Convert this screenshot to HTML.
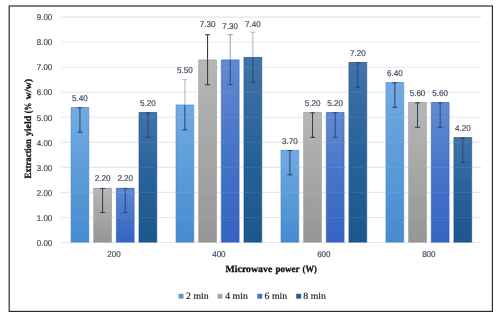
<!DOCTYPE html>
<html><head><meta charset="utf-8"><title>Extraction yield vs microwave power</title>
<style>
html,body{margin:0;padding:0;background:#fff;}
svg{display:block;}
.n{font-family:"Liberation Sans",sans-serif;font-size:8.4px;fill:#434d60;stroke:#434d60;stroke-width:0.2px;text-rendering:geometricPrecision;}
.s{font-family:"Liberation Serif",serif;font-size:9.6px;fill:#1a1a1a;stroke:#1a1a1a;stroke-width:0.15px;text-rendering:geometricPrecision;}
.b{font-family:"Liberation Serif",serif;font-size:9.5px;font-weight:bold;fill:#111;stroke:#111;stroke-width:0.3px;text-rendering:geometricPrecision;}
</style></head><body>
<svg width="497" height="317" viewBox="0 0 497 317">
<defs>
<linearGradient id="g0" x1="0" y1="0" x2="0" y2="1"><stop offset="0" stop-color="#72abe3"/><stop offset="0.5" stop-color="#5b9bd8"/><stop offset="1" stop-color="#468bcf"/></linearGradient>
<linearGradient id="g1" x1="0" y1="0" x2="0" y2="1"><stop offset="0" stop-color="#b7b7b7"/><stop offset="0.5" stop-color="#a6a6a6"/><stop offset="1" stop-color="#969696"/></linearGradient>
<linearGradient id="g2" x1="0" y1="0" x2="0" y2="1"><stop offset="0" stop-color="#628ad3"/><stop offset="0.5" stop-color="#4674c8"/><stop offset="1" stop-color="#3564c1"/></linearGradient>
<linearGradient id="g3" x1="0" y1="0" x2="0" y2="1"><stop offset="0" stop-color="#4073a9"/><stop offset="0.5" stop-color="#28629a"/><stop offset="1" stop-color="#1b568c"/></linearGradient>
</defs>
<rect x="0" y="0" width="497" height="317" fill="#ffffff"/>
<rect x="9.2" y="6" width="483.20" height="305.40" fill="none" stroke="#2e2e2e" stroke-width="1.2"/>

<line x1="61.4" y1="242.50" x2="481.3" y2="242.50" stroke="#e6e6e6" stroke-width="1.1"/>
<text class="n" x="52.3" y="245.70" text-anchor="end" textLength="15.5" lengthAdjust="spacingAndGlyphs">0.00</text>
<line x1="61.4" y1="217.46" x2="481.3" y2="217.46" stroke="#e6e6e6" stroke-width="1.1"/>
<text class="n" x="52.3" y="220.66" text-anchor="end" textLength="15.5" lengthAdjust="spacingAndGlyphs">1.00</text>
<line x1="61.4" y1="192.42" x2="481.3" y2="192.42" stroke="#e6e6e6" stroke-width="1.1"/>
<text class="n" x="52.3" y="195.62" text-anchor="end" textLength="15.5" lengthAdjust="spacingAndGlyphs">2.00</text>
<line x1="61.4" y1="167.38" x2="481.3" y2="167.38" stroke="#e6e6e6" stroke-width="1.1"/>
<text class="n" x="52.3" y="170.58" text-anchor="end" textLength="15.5" lengthAdjust="spacingAndGlyphs">3.00</text>
<line x1="61.4" y1="142.34" x2="481.3" y2="142.34" stroke="#e6e6e6" stroke-width="1.1"/>
<text class="n" x="52.3" y="145.54" text-anchor="end" textLength="15.5" lengthAdjust="spacingAndGlyphs">4.00</text>
<line x1="61.4" y1="117.30" x2="481.3" y2="117.30" stroke="#e6e6e6" stroke-width="1.1"/>
<text class="n" x="52.3" y="120.50" text-anchor="end" textLength="15.5" lengthAdjust="spacingAndGlyphs">5.00</text>
<line x1="61.4" y1="92.26" x2="481.3" y2="92.26" stroke="#e6e6e6" stroke-width="1.1"/>
<text class="n" x="52.3" y="95.46" text-anchor="end" textLength="15.5" lengthAdjust="spacingAndGlyphs">6.00</text>
<line x1="61.4" y1="67.22" x2="481.3" y2="67.22" stroke="#e6e6e6" stroke-width="1.1"/>
<text class="n" x="52.3" y="70.42" text-anchor="end" textLength="15.5" lengthAdjust="spacingAndGlyphs">7.00</text>
<line x1="61.4" y1="42.18" x2="481.3" y2="42.18" stroke="#e6e6e6" stroke-width="1.1"/>
<text class="n" x="52.3" y="45.38" text-anchor="end" textLength="15.5" lengthAdjust="spacingAndGlyphs">8.00</text>
<line x1="61.4" y1="17.14" x2="481.3" y2="17.14" stroke="#e6e6e6" stroke-width="1.1"/>
<text class="n" x="52.3" y="20.34" text-anchor="end" textLength="15.5" lengthAdjust="spacingAndGlyphs">9.00</text>
<rect x="71.00" y="107.28" width="17.9" height="135.22" fill="url(#g0)"/>
<path d="M71.00 242.5V107.53H88.90V242.5" stroke="#4a86c4" stroke-width="0.5" fill="none"/>
<rect x="93.65" y="188.01" width="17.9" height="54.49" fill="url(#g1)"/>
<path d="M93.65 242.5V188.26H111.55V242.5" stroke="#8e8e8e" stroke-width="0.5" fill="none"/>
<rect x="116.30" y="188.01" width="17.9" height="54.49" fill="url(#g2)"/>
<path d="M116.30 242.5V188.26H134.20V242.5" stroke="#345fb0" stroke-width="0.5" fill="none"/>
<rect x="138.95" y="112.29" width="17.9" height="130.21" fill="url(#g3)"/>
<path d="M138.95 242.5V112.54H156.85V242.5" stroke="#1c4f80" stroke-width="0.5" fill="none"/>
<rect x="175.97" y="104.78" width="17.9" height="137.72" fill="url(#g0)"/>
<path d="M175.97 242.5V105.03H193.87V242.5" stroke="#4a86c4" stroke-width="0.5" fill="none"/>
<rect x="198.62" y="59.71" width="17.9" height="182.79" fill="url(#g1)"/>
<path d="M198.62 242.5V59.96H216.52V242.5" stroke="#8e8e8e" stroke-width="0.5" fill="none"/>
<rect x="221.27" y="59.71" width="17.9" height="182.79" fill="url(#g2)"/>
<path d="M221.27 242.5V59.96H239.17V242.5" stroke="#345fb0" stroke-width="0.5" fill="none"/>
<rect x="243.92" y="57.20" width="17.9" height="185.30" fill="url(#g3)"/>
<path d="M243.92 242.5V57.45H261.82V242.5" stroke="#1c4f80" stroke-width="0.5" fill="none"/>
<rect x="280.94" y="150.05" width="17.9" height="92.45" fill="url(#g0)"/>
<path d="M280.94 242.5V150.30H298.84V242.5" stroke="#4a86c4" stroke-width="0.5" fill="none"/>
<rect x="303.59" y="112.29" width="17.9" height="130.21" fill="url(#g1)"/>
<path d="M303.59 242.5V112.54H321.49V242.5" stroke="#8e8e8e" stroke-width="0.5" fill="none"/>
<rect x="326.24" y="112.29" width="17.9" height="130.21" fill="url(#g2)"/>
<path d="M326.24 242.5V112.54H344.14V242.5" stroke="#345fb0" stroke-width="0.5" fill="none"/>
<rect x="348.89" y="62.21" width="17.9" height="180.29" fill="url(#g3)"/>
<path d="M348.89 242.5V62.46H366.79V242.5" stroke="#1c4f80" stroke-width="0.5" fill="none"/>
<rect x="385.91" y="82.24" width="17.9" height="160.26" fill="url(#g0)"/>
<path d="M385.91 242.5V82.49H403.81V242.5" stroke="#4a86c4" stroke-width="0.5" fill="none"/>
<rect x="408.56" y="102.28" width="17.9" height="140.22" fill="url(#g1)"/>
<path d="M408.56 242.5V102.53H426.46V242.5" stroke="#8e8e8e" stroke-width="0.5" fill="none"/>
<rect x="431.21" y="102.28" width="17.9" height="140.22" fill="url(#g2)"/>
<path d="M431.21 242.5V102.53H449.11V242.5" stroke="#345fb0" stroke-width="0.5" fill="none"/>
<rect x="453.86" y="137.33" width="17.9" height="105.17" fill="url(#g3)"/>
<path d="M453.86 242.5V137.58H471.76V242.5" stroke="#1c4f80" stroke-width="0.5" fill="none"/>
<line x1="61.4" y1="217.46" x2="481.3" y2="217.46" stroke="#ffffff" stroke-opacity="0.10" stroke-width="0.8"/>
<line x1="61.4" y1="192.42" x2="481.3" y2="192.42" stroke="#ffffff" stroke-opacity="0.10" stroke-width="0.8"/>
<line x1="61.4" y1="167.38" x2="481.3" y2="167.38" stroke="#ffffff" stroke-opacity="0.10" stroke-width="0.8"/>
<line x1="61.4" y1="142.34" x2="481.3" y2="142.34" stroke="#ffffff" stroke-opacity="0.10" stroke-width="0.8"/>
<line x1="61.4" y1="117.30" x2="481.3" y2="117.30" stroke="#ffffff" stroke-opacity="0.10" stroke-width="0.8"/>
<line x1="61.4" y1="92.26" x2="481.3" y2="92.26" stroke="#ffffff" stroke-opacity="0.10" stroke-width="0.8"/>
<line x1="61.4" y1="67.22" x2="481.3" y2="67.22" stroke="#ffffff" stroke-opacity="0.10" stroke-width="0.8"/>
<line x1="61.4" y1="42.18" x2="481.3" y2="42.18" stroke="#ffffff" stroke-opacity="0.10" stroke-width="0.8"/>
<path d="M79.95 107.28V132.32M77.45 132.32H82.45" stroke="#1d2f4d" stroke-width="1" fill="none" opacity="0.85"/>
<path d="M77.45 107.78H82.45" stroke="#1d2f4d" stroke-width="1" fill="none" opacity="0.72"/>
<path d="M102.60 188.01V212.45M100.10 212.45H105.10" stroke="#1d2f4d" stroke-width="1" fill="none" opacity="0.9"/>
<path d="M100.10 188.51H105.10" stroke="#1d2f4d" stroke-width="1" fill="none" opacity="0.77"/>
<path d="M125.25 188.01V212.45M122.75 212.45H127.75" stroke="#1d2f4d" stroke-width="1" fill="none" opacity="0.7"/>
<path d="M122.75 188.51H127.75" stroke="#1d2f4d" stroke-width="1" fill="none" opacity="0.59"/>
<path d="M147.90 112.29V137.33M145.40 137.33H150.40" stroke="#1d2f4d" stroke-width="1" fill="none" opacity="0.6"/>
<path d="M145.40 112.79H150.40" stroke="#1d2f4d" stroke-width="1" fill="none" opacity="0.51"/>
<path d="M184.92 104.78V129.82M182.42 129.82H187.42" stroke="#1d2f4d" stroke-width="1" fill="none" opacity="0.85"/>
<path d="M184.92 104.78V79.74M182.42 79.74H187.42" stroke="#a3abbb" stroke-width="0.9" fill="none"/>
<path d="M207.57 59.71V84.75M205.07 84.75H210.07" stroke="#1d2f4d" stroke-width="1" fill="none" opacity="0.9"/>
<path d="M207.57 59.71V34.67M205.07 34.67H210.07" stroke="#2b3446" stroke-width="1.05" fill="none"/>
<path d="M230.22 59.71V84.75M227.72 84.75H232.72" stroke="#1d2f4d" stroke-width="1" fill="none" opacity="0.7"/>
<path d="M230.22 59.71V34.67M227.72 34.67H232.72" stroke="#8791a8" stroke-width="0.9" fill="none"/>
<path d="M252.87 57.20V82.24M250.37 82.24H255.37" stroke="#1d2f4d" stroke-width="1" fill="none" opacity="0.6"/>
<path d="M252.87 57.20V32.16M250.37 32.16H255.37" stroke="#a3abbb" stroke-width="0.9" fill="none"/>
<path d="M289.89 150.05V174.89M287.39 174.89H292.39" stroke="#1d2f4d" stroke-width="1" fill="none" opacity="0.85"/>
<path d="M287.39 150.55H292.39" stroke="#1d2f4d" stroke-width="1" fill="none" opacity="0.72"/>
<path d="M312.54 112.29V137.33M310.04 137.33H315.04" stroke="#1d2f4d" stroke-width="1" fill="none" opacity="0.9"/>
<path d="M310.04 112.79H315.04" stroke="#1d2f4d" stroke-width="1" fill="none" opacity="0.77"/>
<path d="M335.19 112.29V137.33M332.69 137.33H337.69" stroke="#1d2f4d" stroke-width="1" fill="none" opacity="0.7"/>
<path d="M332.69 112.79H337.69" stroke="#1d2f4d" stroke-width="1" fill="none" opacity="0.59"/>
<path d="M357.84 62.21V87.25M355.34 87.25H360.34" stroke="#1d2f4d" stroke-width="1" fill="none" opacity="0.6"/>
<path d="M355.34 62.71H360.34" stroke="#1d2f4d" stroke-width="1" fill="none" opacity="0.51"/>
<path d="M394.86 82.24V107.28M392.36 107.28H397.36" stroke="#1d2f4d" stroke-width="1" fill="none" opacity="0.85"/>
<path d="M392.36 82.74H397.36" stroke="#1d2f4d" stroke-width="1" fill="none" opacity="0.72"/>
<path d="M417.51 102.28V127.32M415.01 127.32H420.01" stroke="#1d2f4d" stroke-width="1" fill="none" opacity="0.9"/>
<path d="M415.01 102.78H420.01" stroke="#1d2f4d" stroke-width="1" fill="none" opacity="0.77"/>
<path d="M440.16 102.28V127.32M437.66 127.32H442.66" stroke="#1d2f4d" stroke-width="1" fill="none" opacity="0.7"/>
<path d="M437.66 102.78H442.66" stroke="#1d2f4d" stroke-width="1" fill="none" opacity="0.59"/>
<path d="M462.81 137.33V162.37M460.31 162.37H465.31" stroke="#1d2f4d" stroke-width="1" fill="none" opacity="0.6"/>
<path d="M460.31 137.83H465.31" stroke="#1d2f4d" stroke-width="1" fill="none" opacity="0.51"/>
<text class="n" x="79.95" y="100.88" text-anchor="middle" textLength="15.7" lengthAdjust="spacingAndGlyphs">5.40</text>
<text class="n" x="102.60" y="181.01" text-anchor="middle" textLength="15.7" lengthAdjust="spacingAndGlyphs">2.20</text>
<text class="n" x="125.25" y="181.01" text-anchor="middle" textLength="15.7" lengthAdjust="spacingAndGlyphs">2.20</text>
<text class="n" x="147.90" y="105.89" text-anchor="middle" textLength="15.7" lengthAdjust="spacingAndGlyphs">5.20</text>
<text class="n" x="184.92" y="73.00" text-anchor="middle" textLength="15.7" lengthAdjust="spacingAndGlyphs">5.50</text>
<text class="n" x="207.57" y="27.30" text-anchor="middle" textLength="15.7" lengthAdjust="spacingAndGlyphs">7.30</text>
<text class="n" x="230.22" y="29.40" text-anchor="middle" textLength="15.7" lengthAdjust="spacingAndGlyphs">7.30</text>
<text class="n" x="252.87" y="26.50" text-anchor="middle" textLength="15.7" lengthAdjust="spacingAndGlyphs">7.40</text>
<text class="n" x="289.89" y="143.55" text-anchor="middle" textLength="15.7" lengthAdjust="spacingAndGlyphs">3.70</text>
<text class="n" x="312.54" y="105.89" text-anchor="middle" textLength="15.7" lengthAdjust="spacingAndGlyphs">5.20</text>
<text class="n" x="335.19" y="105.89" text-anchor="middle" textLength="15.7" lengthAdjust="spacingAndGlyphs">5.20</text>
<text class="n" x="357.84" y="55.81" text-anchor="middle" textLength="15.7" lengthAdjust="spacingAndGlyphs">7.20</text>
<text class="n" x="394.86" y="75.84" text-anchor="middle" textLength="15.7" lengthAdjust="spacingAndGlyphs">6.40</text>
<text class="n" x="417.51" y="95.88" text-anchor="middle" textLength="15.7" lengthAdjust="spacingAndGlyphs">5.60</text>
<text class="n" x="440.16" y="95.88" text-anchor="middle" textLength="15.7" lengthAdjust="spacingAndGlyphs">5.60</text>
<text class="n" x="462.81" y="130.93" text-anchor="middle" textLength="15.7" lengthAdjust="spacingAndGlyphs">4.20</text>
<text class="n" x="113.92" y="257.1" text-anchor="middle" textLength="13.4" lengthAdjust="spacingAndGlyphs">200</text>
<text class="n" x="218.89" y="257.1" text-anchor="middle" textLength="13.4" lengthAdjust="spacingAndGlyphs">400</text>
<text class="n" x="323.87" y="257.1" text-anchor="middle" textLength="13.4" lengthAdjust="spacingAndGlyphs">600</text>
<text class="n" x="428.83" y="257.1" text-anchor="middle" textLength="13.4" lengthAdjust="spacingAndGlyphs">800</text>
<text class="b" x="225.5" y="271.6" textLength="46.8" lengthAdjust="spacingAndGlyphs">Microwave</text>
<text class="b" x="275.4" y="271.6" textLength="24.0" lengthAdjust="spacingAndGlyphs">power</text>
<text class="b" x="302.6" y="271.6" textLength="14.1" lengthAdjust="spacingAndGlyphs">(W)</text>
<text class="b" transform="translate(30.5 178.5) rotate(-90)" textLength="39.4" lengthAdjust="spacingAndGlyphs">Extraction</text>
<text class="b" transform="translate(30.5 136.1) rotate(-90)" textLength="20.3" lengthAdjust="spacingAndGlyphs">yield</text>
<text class="b" transform="translate(30.5 113.2) rotate(-90)" textLength="10.4" lengthAdjust="spacingAndGlyphs">(%</text>
<text class="b" transform="translate(30.5 99.6) rotate(-90)" textLength="20.6" lengthAdjust="spacingAndGlyphs">w/w)</text>
<rect x="178.6" y="293.8" width="4.9" height="4.9" fill="#5b9bd5"/>
<text class="s" x="186.1" y="298.8" textLength="22.6" lengthAdjust="spacingAndGlyphs">2 min</text>
<rect x="217.6" y="293.8" width="4.9" height="4.9" fill="#a5a5a5"/>
<text class="s" x="225.2" y="298.8" textLength="22.6" lengthAdjust="spacingAndGlyphs">4 min</text>
<rect x="257.3" y="293.8" width="4.9" height="4.9" fill="#4472c4"/>
<text class="s" x="264.6" y="298.8" textLength="22.6" lengthAdjust="spacingAndGlyphs">6 min</text>
<rect x="296.2" y="293.8" width="4.9" height="4.9" fill="#255e91"/>
<text class="s" x="303.3" y="298.8" textLength="22.6" lengthAdjust="spacingAndGlyphs">8 min</text>
</svg></body></html>
